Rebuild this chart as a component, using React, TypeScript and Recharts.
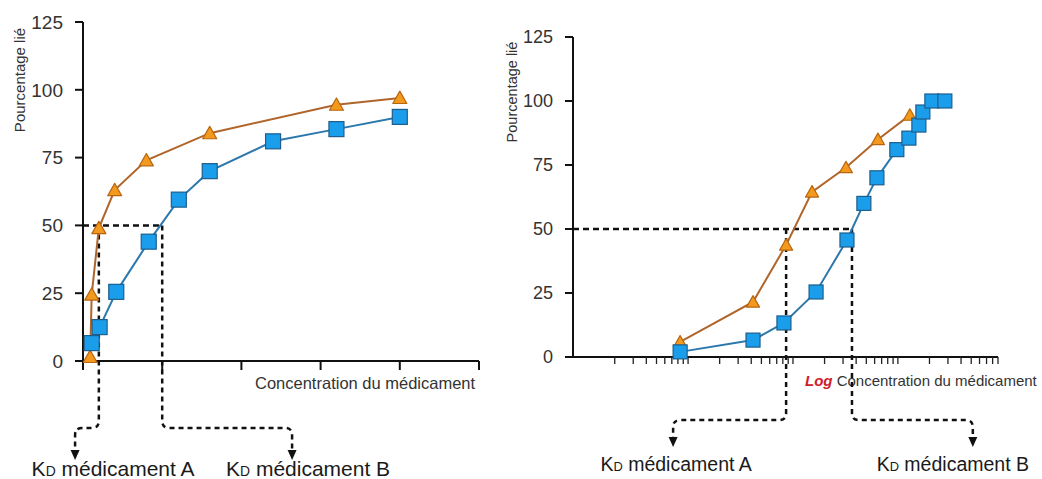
import React from 'react';
import { LineChart, Line, XAxis, YAxis, ReferenceLine } from 'recharts';

const FONT = '"Liberation Sans", Arial, Helvetica, sans-serif';

// ---------- data ----------
const yTicks = [0, 25, 50, 75, 100, 125];
const leftXTicks = [0, 1, 2, 3, 4, 5];
const logXTicks = [
  2, 3, 4, 5, 6, 7, 8, 9,
  10, 20, 30, 40, 50, 60, 70, 80, 90,
  100, 200, 300, 400, 500, 600, 700, 800, 900,
  1000, 2000, 3000, 4000, 5000, 6000, 7000, 8000, 9000,
];

const leftOrangeX = [0.09, 0.11, 0.2, 0.4, 0.8, 1.6, 3.2, 4.0];
const leftOrangeY = [1.5, 24.5, 49, 63, 74, 84, 94.5, 97];
const leftBlueX = [0.11, 0.21, 0.42, 0.83, 1.21, 1.6, 2.4, 3.2, 4.0];
const leftBlueY = [6.6, 12.5, 25.5, 44, 59.5, 70, 81, 85.5, 90];

const rightOrangeX = [8.4, 41.6, 86, 152, 320, 645, 1300];
const rightOrangeY = [5.9, 21.5, 43.75, 64.5, 74, 85, 94.5];
const rightBlueX = [8.4, 41.6, 82, 166, 327, 474, 631, 977, 1273, 1585, 1730, 2108, 2803];
const rightBlueY = [2, 6.6, 13.3, 25.4, 45.7, 60, 70, 81, 85.5, 90.6, 95.7, 100, 100];

const leftKd = { a: 0.2, b: 1.0 };
const rightKd = { a: 86, b: 365 };
// arrow targets (data units)
const leftTargets = { a: -0.1, b: 2.64, tipY: -36.5 };
const rightTargets = { a: 7.2, b: 5180, tipY: -35.2 };

const toPoints = (xs: number[], ys: number[]) => xs.map((x, i) => ({ x, y: ys[i] }));

// ---------- styles ----------
const ORANGE_LINE = '#B0652B';
const ORANGE_FILL = '#F39A1E';
const ORANGE_EDGE = '#B8650F';
const BLUE_LINE = '#2C78AC';
const BLUE_FILL = '#1A9DEB';
const BLUE_EDGE = '#1D5E8C';
const DASH = '#111';

const squareDot = (size: number) => (p: any) => {
  const { cx, cy, index } = p;
  if (cx == null || cy == null) return <g key={index} />;
  return (
    <rect key={index} x={cx - size / 2} y={cy - size / 2} width={size} height={size}
      fill={BLUE_FILL} stroke={BLUE_EDGE} strokeWidth={1.2} />
  );
};

const triDot = (w: number) => (p: any) => {
  const { cx, cy, index } = p;
  if (cx == null || cy == null) return <g key={index} />;
  const h = w * 0.88;
  return (
    <polygon key={index}
      points={`${cx},${cy - h * 0.55} ${cx - w / 2},${cy + h * 0.45} ${cx + w / 2},${cy + h * 0.45}`}
      fill={ORANGE_FILL} stroke={ORANGE_EDGE} strokeWidth={1.2} strokeLinejoin="round" />
  );
};

const makeArrow = (turnGap: number, label: string, labelDx: number, labelDy: number, fontSize: number) =>
  (p: any) => {
    const { x1, y1, x2, y2 } = p;
    const dir = x2 < x1 ? -1 : 1;
    const turnY = y2 - turnGap;
    const r = 7;
    const d = `M${x1},${y1} V${turnY - r} Q${x1},${turnY} ${x1 + dir * r},${turnY} H${x2 - dir * r} Q${x2},${turnY} ${x2},${turnY + r} V${y2 - 9}`;
    return (
      <g>
        <path d={d} fill="none" stroke={DASH} strokeWidth={2.5} strokeDasharray="5 4" />
        <polygon points={`${x2 - 4.5},${y2 - 10} ${x2 + 4.5},${y2 - 10} ${x2},${y2}`} fill={DASH} />
        <text x={x2 + labelDx} y={y2 + labelDy} textAnchor="middle" fontSize={fontSize}
          fill="#1a1a1a" fontFamily={FONT}>
          <tspan>K</tspan>
          <tspan fontSize={fontSize * 0.66}>D</tspan>
          <tspan>{' médicament ' + label}</tspan>
        </text>
      </g>
    );
  };

const noTick = () => <g />;

export default function App() {
  const lo = toPoints(leftOrangeX, leftOrangeY);
  const lb = toPoints(leftBlueX, leftBlueY);
  const ro = toPoints(rightOrangeX, rightOrangeY);
  const rb = toPoints(rightBlueX, rightBlueY);

  return (
    <div style={{ position: 'absolute', left: 0, top: 0, width: 1042, height: 479, background: '#fff', overflow: 'hidden' }}>
      {/* LEFT CHART */}
      <div style={{ position: 'absolute', left: 0, top: 0 }}>
        <LineChart width={520} height={479} margin={{ top: 22, left: 23, right: 41, bottom: 88 }}>
          <XAxis type="number" dataKey="x" domain={[0, 5]} ticks={leftXTicks} allowDataOverflow interval={0}
            height={30} tick={noTick} tickSize={9}
            axisLine={{ stroke: '#111', strokeWidth: 2 }} tickLine={{ stroke: '#111', strokeWidth: 2 }} />
          <YAxis type="number" domain={[0, 125]} ticks={yTicks} width={60} tickSize={8} tickMargin={12} interval={0}
            tick={{ fill: '#333', fontSize: 19, fontFamily: FONT }}
            axisLine={{ stroke: '#111', strokeWidth: 2 }} tickLine={{ stroke: '#111', strokeWidth: 2 }} />
          <ReferenceLine segment={[{ x: 0, y: 50 }, { x: leftKd.b, y: 50 }]} ifOverflow="visible"
            stroke={DASH} strokeWidth={2.5} strokeDasharray="6 4" />
          <ReferenceLine segment={[{ x: leftKd.a, y: 50 }, { x: leftTargets.a, y: leftTargets.tipY }]}
            ifOverflow="visible" shape={makeArrow(32, 'A', 38, 16, 21)} />
          <ReferenceLine segment={[{ x: leftKd.b, y: 50 }, { x: leftTargets.b, y: leftTargets.tipY }]}
            ifOverflow="visible" shape={makeArrow(32, 'B', 16, 16, 21)} />
          <Line data={lo} dataKey="y" type="linear" stroke={ORANGE_LINE} strokeWidth={2}
            dot={triDot(14)} isAnimationActive={false} />
          <Line data={lb} dataKey="y" type="linear" stroke={BLUE_LINE} strokeWidth={2}
            dot={squareDot(15)} isAnimationActive={false} />
          <text transform="translate(19,80) rotate(-90)" textAnchor="middle" dominantBaseline="central"
            fontSize={15} fill="#333" fontFamily={FONT}>Pourcentage lié</text>
          <text x={255} y={389} fontSize={16.5} fill="#333" fontFamily={FONT}>Concentration du médicament</text>
        </LineChart>
      </div>

      {/* RIGHT CHART */}
      <div style={{ position: 'absolute', left: 500, top: 0 }}>
        <LineChart width={542} height={479} margin={{ top: 37, left: 13, right: 44, bottom: 92 }}>
          <XAxis type="number" dataKey="x" scale="log" domain={[0.8, 9000]} ticks={logXTicks} allowDataOverflow
            interval={0} height={30} tick={noTick} tickSize={7}
            axisLine={{ stroke: '#111', strokeWidth: 2 }} tickLine={{ stroke: '#222', strokeWidth: 1.3 }} />
          <YAxis type="number" domain={[0, 125]} ticks={yTicks} width={60} tickSize={8} tickMargin={12} interval={0}
            tick={{ fill: '#333', fontSize: 18, fontFamily: FONT }}
            axisLine={{ stroke: '#111', strokeWidth: 2 }} tickLine={{ stroke: '#111', strokeWidth: 2 }} />
          <ReferenceLine segment={[{ x: 0.8, y: 50 }, { x: rightKd.b, y: 50 }]} ifOverflow="visible"
            stroke={DASH} strokeWidth={2.5} strokeDasharray="6 4" />
          <ReferenceLine segment={[{ x: rightKd.a, y: 50 }, { x: rightTargets.a, y: rightTargets.tipY }]}
            ifOverflow="visible" shape={makeArrow(27, 'A', 3, 24, 19.5)} />
          <ReferenceLine segment={[{ x: rightKd.b, y: 50 }, { x: rightTargets.b, y: rightTargets.tipY }]}
            ifOverflow="visible" shape={makeArrow(27, 'B', -20, 24, 19.5)} />
          <Line data={ro} dataKey="y" type="linear" stroke={ORANGE_LINE} strokeWidth={2}
            dot={triDot(13)} isAnimationActive={false} />
          <Line data={rb} dataKey="y" type="linear" stroke={BLUE_LINE} strokeWidth={2}
            dot={squareDot(14)} isAnimationActive={false} />
          <text transform="translate(12,92) rotate(-90)" textAnchor="middle" dominantBaseline="central"
            fontSize={14.5} fill="#333" fontFamily={FONT}>Pourcentage lié</text>
          <text x={305} y={386} fontSize={15} fontFamily={FONT}>
            <tspan fill="#D0202A" fontWeight="bold" fontStyle="italic">Log</tspan>
            <tspan fill="#333">{' Concentration du médicament'}</tspan>
          </text>
        </LineChart>
      </div>
    </div>
  );
}
